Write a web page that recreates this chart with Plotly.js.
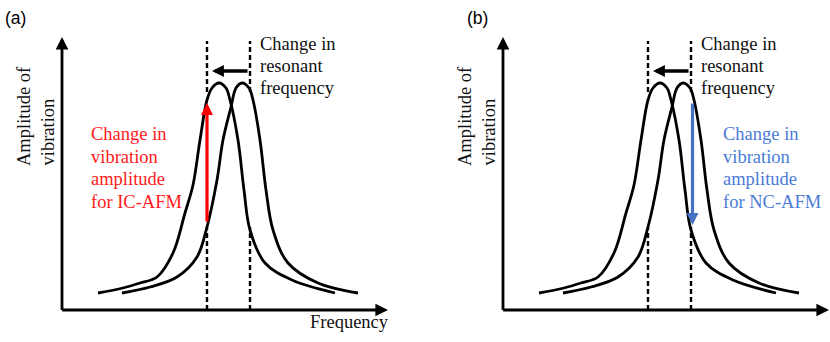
<!DOCTYPE html>
<html><head><meta charset="utf-8">
<script src="https://cdn.plot.ly/plotly-3.0.1.min.js"></script>
<style>html,body{margin:0;padding:0;background:#fff}#chart{width:830px;height:342px}</style>
</head><body><div id="chart"></div>
<script>
// Resonance curves (arbitrary units, origin at the axes corner)
const shiftedFreq  = [36, 61, 78, 95, 111, 123, 131, 138, 145, 150, 157, 164, 168, 176, 182, 188, 203, 230, 273];
const shiftedAmp   = [17, 22, 27, 33, 57, 97, 125, 170, 210, 222, 227, 222, 210, 170, 120, 80, 47, 30, 17];
const originalFreq = [60, 88, 115, 135, 145, 155, 161, 169, 174, 180, 187, 191, 198, 204, 211, 226, 256, 296];
const originalAmp  = [17, 23, 33, 53, 83, 130, 170, 203, 222, 227, 222, 210, 170, 120, 80, 47, 27, 17];
// dashed resonance markers: new and old resonant frequency
const resonanceFreqs = [145, 188];
const markerLower = [0, 83];
const markerUpper = [218, 269];
// amplitude change arrows [from, to]
const icFreq = 145;
const icAmp = [87, 207];
const ncFreq = 189.5;
const ncAmp = [208, 85];
// resonance shift arrow [from, to] at amplitude
const shiftFreq = [187, 150];
const shiftAmp = 239;
// axes extents
const axisFreqMax = 326;
const axisAmpMax = 273;
// texts
const panelLabels = ['(a)', '(b)'];
const shiftLabel = ['Change in', 'resonant', 'frequency'];
const icLabel = ['Change in', 'vibration', 'amplitude', 'for IC-AFM'];
const ncLabel = ['Change in', 'vibration', 'amplitude', 'for NC-AFM'];
const yLabel = ['Amplitude of', 'vibration'];
const xLabel = 'Frequency';

const SERIF = 'Liberation Serif, Times New Roman, serif';
const FS = 18.5;
const traces = [];
const annotations = [];

function arrow(xr, yr, x, y, ax, ay, color, w, size) {
  annotations.push({xref: xr, yref: yr, axref: xr, ayref: yr, x: x, y: y, ax: ax, ay: ay,
    text: '', showarrow: true, arrowhead: 2, arrowsize: size, arrowwidth: w, arrowcolor: color, standoff: 0});
}
function label(xr, yr, x, y, text, opts) {
  annotations.push(Object.assign({xref: xr, yref: yr, x: x, y: y, text: text, showarrow: false,
    xanchor: 'left', yanchor: 'middle', font: {family: SERIF, size: FS, color: '#111'}}, opts || {}));
}

function panel(idx) {
  const xr = idx === 0 ? 'x' : 'x2';
  const yr = idx === 0 ? 'y' : 'y2';
  // dashed markers
  resonanceFreqs.forEach(f => {
    traces.push({x: [f, f, null, f, f], y: [markerLower[0], markerLower[1], null, markerUpper[0], markerUpper[1]],
      xaxis: xr, yaxis: yr, mode: 'lines', line: {color: '#000', width: 2.4, dash: '5px,3px'}, hoverinfo: 'skip'});
  });
  // curves
  traces.push({x: shiftedFreq, y: shiftedAmp, xaxis: xr, yaxis: yr, mode: 'lines',
    line: {color: '#000', width: 2.8, shape: 'spline', smoothing: 1}, hoverinfo: 'skip'});
  traces.push({x: originalFreq, y: originalAmp, xaxis: xr, yaxis: yr, mode: 'lines',
    line: {color: '#000', width: 2.8, shape: 'spline', smoothing: 1}, hoverinfo: 'skip'});
  // axes arrows
  arrow(xr, yr, 0, axisAmpMax, 0, -1.4, '#000', 2.8, 0.9);
  arrow(xr, yr, axisFreqMax, 0, -1.4, 0, '#000', 2.8, 0.9);
  // shift arrow
  arrow(xr, yr, shiftFreq[1], shiftAmp, shiftFreq[0], shiftAmp, '#000', 3.4, 0.7);
  // amplitude arrows
  if (idx === 0) {
    arrow(xr, yr, icFreq, icAmp[1], icFreq, icAmp[0], '#ff0000', 3.2, 0.75);
    icLabel.forEach((t, i) => label(xr, yr, 27, 176 - i * 22.7, t, {font: {family: SERIF, size: FS, color: '#ff1a1a'}}));
  } else {
    arrow(xr, yr, ncFreq, ncAmp[1], ncFreq, ncAmp[0], '#4472c4', 3.2, 0.75);
    ncLabel.forEach((t, i) => label(xr, yr, 218, 176 - i * 22.7, t, {font: {family: SERIF, size: FS, color: '#4a7bd6'}}));
  }
  shiftLabel.forEach((t, i) => label(xr, yr, 196, 266 - i * 22, t));
  // axis labels
  yLabel.forEach((t, i) => label(xr, yr, -38 + i * 23, 142, t, {textangle: -90, xanchor: 'center', yanchor: 'bottom'}));
  label(xr, yr, axisFreqMax + 3, -12, xLabel, {xanchor: 'right'});
  // panel tag
  label(xr, yr, idx === 0 ? -59 : -38, 292, panelLabels[idx],
    {font: {family: 'Liberation Sans, Arial, sans-serif', size: 17.5, color: '#000'}});
}
panel(0);
panel(1);

const ax = {visible: false, showgrid: false, zeroline: false, fixedrange: true};
const layout = {
  width: 830, height: 342, margin: {l: 0, r: 0, t: 0, b: 0},
  paper_bgcolor: '#fff', plot_bgcolor: '#fff', showlegend: false,
  xaxis: Object.assign({domain: [0, 0.5], range: [-62, 353]}, ax),
  yaxis: Object.assign({domain: [0, 1], range: [-32, 310]}, ax),
  xaxis2: Object.assign({domain: [0.5, 1], range: [-88, 327]}, ax),
  yaxis2: Object.assign({domain: [0, 1], range: [-32, 310], anchor: 'x2'}, ax),
  annotations: annotations
};
Plotly.newPlot('chart', traces, layout, {displayModeBar: false, staticPlot: true});
</script></body></html>
